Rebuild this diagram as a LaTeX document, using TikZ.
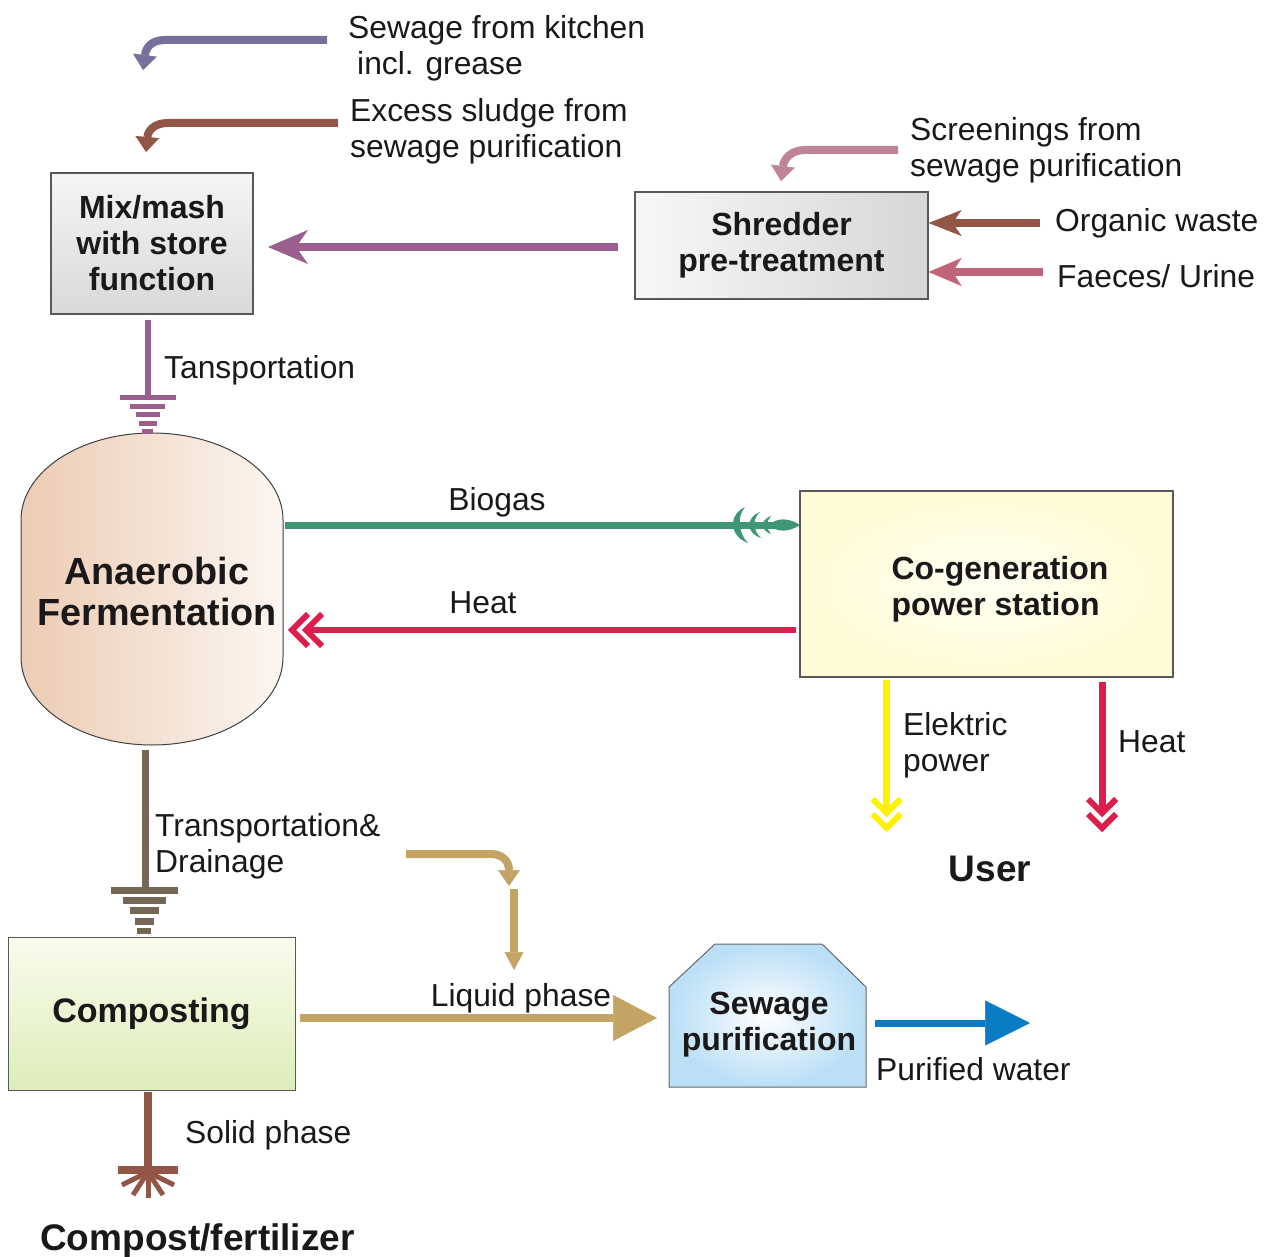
\documentclass[tikz,border=0pt]{standalone}
\usepackage{fontspec}
\setmainfont{Liberation Sans}
\usetikzlibrary{arrows.meta}
\definecolor{cKitchen}{RGB}{119,112,154}
\definecolor{cBrown}{RGB}{146,86,70}
\definecolor{cScreen}{RGB}{192,132,154}
\definecolor{cFaeces}{RGB}{192,100,122}
\definecolor{cPurple}{RGB}{155,95,143}
\definecolor{cGreen}{RGB}{62,150,114}
\definecolor{cRed}{RGB}{220,30,76}
\definecolor{cYellow}{RGB}{255,242,0}
\definecolor{cDrain}{RGB}{118,102,85}
\definecolor{cTan}{RGB}{196,164,100}
\definecolor{cBlue}{RGB}{10,124,196}
\definecolor{cPeach}{RGB}{236,204,180}
\definecolor{cPeachL}{RGB}{252,246,241}
\definecolor{cTxt}{RGB}{26,24,24}
\begin{document}
\begin{tikzpicture}[x=1pt,y=-1pt,
  lbl/.style={font=\fontsize{31.8}{36}\selectfont, inner sep=0pt, align=left, text=cTxt},
  blbl/.style={font=\fontsize{32}{36}\selectfont\bfseries, inner sep=0pt, align=center, text=cTxt},
  bigb/.style={font=\fontsize{37}{41}\selectfont\bfseries, inner sep=0pt, text=cTxt},
  tankb/.style={font=\fontsize{37.8}{41}\selectfont\bfseries, inner sep=0pt, align=center, text=cTxt},
  box/.style={draw=black!65, line width=1.2pt, inner sep=0pt},
  chev/.style={line width=6pt, line join=miter, line cap=butt},
  gbar/.style={line width=#1, line cap=butt},
  gbar/.default=5pt,
  ]
\useasboundingbox (0,0) rectangle (1272,1257);

% ---------- boxes ----------
\node[box, minimum width=202pt, minimum height=141pt, top color=gray!8, bottom color=gray!30, blbl] (mix) at (152,243.5) {Mix/mash\\with store\\function};
\node[box, minimum width=293pt, minimum height=107pt, left color=gray!6, right color=gray!32, blbl] (shred) at (781.5,245.5) {Shredder\\pre-treatment};
\node[box, minimum width=373pt, minimum height=186pt, inner color={rgb,255:red,255;green,255;blue,242}, outer color={rgb,255:red,255;green,251;blue,214}] (cogen) at (986.5,584) {};
\node[blbl, align=left] (cogenTxt) at (1000,589) {Co-generation\\power station};
\node[box, line width=1pt, minimum width=287pt, minimum height=153pt, top color={rgb,255:red,249;green,252;blue,236}, bottom color={rgb,255:red,222;green,237;blue,186}, blbl, font=\fontsize{34}{36}\selectfont\bfseries] (comp) at (151.5,1013.5) {Composting};

% tank
\draw[draw=black!75, line width=1pt, left color=cPeach, right color=cPeachL]
  (21,657) -- (21,520) .. controls (21,472) and (79.6,433) .. (152,433)
  .. controls (224.4,433) and (283,472) .. (283,520) -- (283,657)
  .. controls (283,705.6) and (224.4,745) .. (152,745)
  .. controls (79.6,745) and (21,705.6) .. (21,657) -- cycle;
\node[tankb] (tank) at (157,591) {Anaerobic\\Fermentation};

% sewage purification
\draw[draw=black!60, line width=1pt, inner color=white, outer color={rgb,255:red,186;green,223;blue,246}]
  (669,987) -- (715,944) -- (822,944) -- (866,987) -- (866,1087) -- (669,1087) -- cycle;
\node[blbl] (sew) at (769,1025) {Sewage\\purification};

% ---------- labels ----------
\node[lbl, anchor=west] (tKitchen) at (348,48) {Sewage from kitchen\\\hspace*{9pt}incl. grease};
\node[lbl, anchor=west] (tSludge) at (350,131) {Excess sludge from\\sewage purification};
\node[lbl, anchor=west] (tScreen) at (910,150) {Screenings from\\sewage purification};
\node[lbl, anchor=west] (tOrg) at (1055,223) {Organic waste};
\node[lbl, anchor=west] (tFaec) at (1057,276) {Faeces/ Urine};
\node[lbl, anchor=west] (tTrans) at (164,370) {Tansportation};
\node[lbl] (tBiogas) at (497,502) {Biogas};
\node[lbl] (tHeatA) at (483,603) {Heat};
\node[lbl, anchor=west] (tElek) at (903,745) {Elektric\\power};
\node[lbl, anchor=west] (tHeatB) at (1118,742) {Heat};
\node[bigb] (user) at (990,869) {User};
\node[lbl, anchor=west] (tDrain) at (155,846) {Transportation\&\\Drainage};
\node[lbl] (tLiquid) at (521,998) {Liquid phase};
\node[lbl, anchor=west] (tPure) at (876,1069) {Purified water};
\node[lbl, anchor=west] (tSolid) at (185,1135) {Solid phase};
\node[bigb, anchor=west] (compost) at (40,1241) {Compost/fertilizer};

% ---------- coordinates ----------
\coordinate (kS) at (327,40);   \coordinate (kE) at (143,70);
\coordinate (sS) at (338,123);  \coordinate (sE) at (146,152);
\coordinate (scS) at (898,150); \coordinate (scE) at (781,181);
\coordinate (orgS) at (1040,223);
\coordinate (faeS) at (1043,272);
\coordinate (pA) at (618,247);  \coordinate (pB) at (268,247);
\coordinate (trS) at (148,320); \coordinate (trE) at (148,397);
\coordinate (bgS) at (285,525); \coordinate (bgE) at (776,525);
\coordinate (htS) at (796,630); \coordinate (htE) at (306,630);
\coordinate (elS) at (886.5,680); \coordinate (elE) at (886.5,812);
\coordinate (hbS) at (1102,682); \coordinate (hbE) at (1102,812);
\coordinate (drS) at (145,750); \coordinate (drE) at (145,890);
\coordinate (tnS) at (406,854); \coordinate (tnE) at (509,886);
\coordinate (tvS) at (514,889); \coordinate (tvE) at (514,970);
\coordinate (lqS) at (300,1018); \coordinate (lqE) at (657,1018);
\coordinate (bwS) at (875,1023); \coordinate (bwE) at (1030,1023);
\coordinate (soS) at (148,1092); \coordinate (soE) at (148,1170);

% ---------- top inflow arrows ----------
\draw[cKitchen, line width=8pt, -{Triangle[length=15pt,width=24pt,line width=0.5pt]}]
  (kS) -- (165,40) .. controls (152,40) and (146,47) .. (kE);
\draw[cBrown, line width=8pt, -{Triangle[length=15pt,width=24pt,line width=0.5pt]}]
  (sS) -- (168,123) .. controls (155,123) and (148,130) .. (sE);
\draw[cScreen, line width=8pt, -{Triangle[length=15pt,width=24pt,line width=0.5pt]}]
  (scS) -- (805,150) .. controls (792,150) and (784,158) .. (scE);
\draw[cBrown, line width=8pt, -{Stealth[length=33pt,width=26pt,inset=9pt,line width=0.5pt]}]
  (orgS) -- (shred.east |- orgS);
\draw[cFaeces, line width=8pt, -{Stealth[length=33pt,width=28pt,inset=9pt,line width=0.5pt]}]
  (faeS) -- (shred.east |- faeS);
\draw[cPurple, line width=8pt, -{Stealth[length=40pt,width=34pt,inset=12pt,line width=0.5pt]}]
  (pA) -- (pB);

% transportation with ground symbol
\draw[cPurple, line width=6pt] (trS) -- (trE);
\draw[cPurple, gbar] (120,397) -- (176,397);
\draw[cPurple, gbar] (130,406) -- (165,406);
\draw[cPurple, gbar] (136,414) -- (160,414);
\draw[cPurple, gbar] (139,423) -- (157,423);
\draw[cPurple, gbar] (142,431) -- (153,431);

% biogas with fishbone head
\draw[cGreen, line width=7pt] (bgS) -- (bgE);
\fill[cGreen] (770,525) .. controls (776,517) and (790,518) .. (800,525)
  .. controls (790,532) and (776,533) .. (770,525) -- cycle;
\fill[cGreen] (745,507) .. controls (728,515) and (729,536) .. (748,543)
  .. controls (738,533) and (737,516) .. (745,507) -- cycle;
\fill[cGreen] (760,512) .. controls (745,518) and (746,533) .. (761,538)
  .. controls (753,531) and (752,519) .. (760,512) -- cycle;
\fill[cGreen] (771,516) .. controls (760,520) and (760,530) .. (771,534)
  .. controls (766,529) and (766,521) .. (771,516) -- cycle;

% heat back to tank
\draw[cRed, line width=6.5pt] (htS) -- (htE);
\draw[cRed, chev] (308,614) -- (292,630) -- (308,646);
\draw[cRed, chev] (322,614) -- (306,630) -- (322,646);

% electric power
\draw[cYellow, line width=7pt] (elS) -- (elE);
\draw[cYellow, chev] (872.5,799) -- (886.5,813) -- (900.5,799);
\draw[cYellow, chev] (872.5,814) -- (886.5,828) -- (900.5,814);

% heat to user
\draw[cRed, line width=7pt] (hbS) -- (hbE);
\draw[cRed, chev] (1088,799) -- (1102,813) -- (1116,799);
\draw[cRed, chev] (1088,814) -- (1102,828) -- (1116,814);

% drainage with ground symbol
\draw[cDrain, line width=7pt] (drS) -- (drE);
\draw[cDrain, gbar=7pt] (111,890) -- (178,890);
\draw[cDrain, gbar=7pt] (123,900) -- (166,900);
\draw[cDrain, gbar=7pt] (130,910) -- (159,910);
\draw[cDrain, gbar=7pt] (135,921) -- (154,921);
\draw[cDrain, gbar=6pt] (137,931) -- (151,931);

% tan arrows
\draw[cTan, line width=8pt, -{Triangle[length=16pt,width=22pt,line width=0.5pt]}]
  (tnS) -- (491,854) .. controls (502,854) and (509,861) .. (tnE);
\draw[cTan, line width=8pt, -{Triangle[length=18pt,width=19pt,line width=0.5pt]}] (tvS) -- (tvE);
\draw[cTan, line width=8pt, -{Triangle[length=44pt,width=46pt,line width=0.5pt]}] (lqS) -- (lqE);

% purified water
\draw[cBlue, line width=7pt, -{Triangle[length=45pt,width=45pt,line width=0.5pt]}] (bwS) -- (bwE);

% solid phase with root symbol
\draw[cBrown, line width=8pt] (soS) -- (soE);
\draw[cBrown, gbar=8pt] (118,1170) -- (178,1170);
\draw[cBrown, gbar=5pt] (148,1172) -- (122,1185);
\draw[cBrown, gbar=5pt] (148,1172) -- (133,1195);
\draw[cBrown, gbar=5pt] (148,1172) -- (148,1198);
\draw[cBrown, gbar=5pt] (148,1172) -- (163,1195);
\draw[cBrown, gbar=5pt] (148,1172) -- (174,1185);
\end{tikzpicture}
\end{document}
